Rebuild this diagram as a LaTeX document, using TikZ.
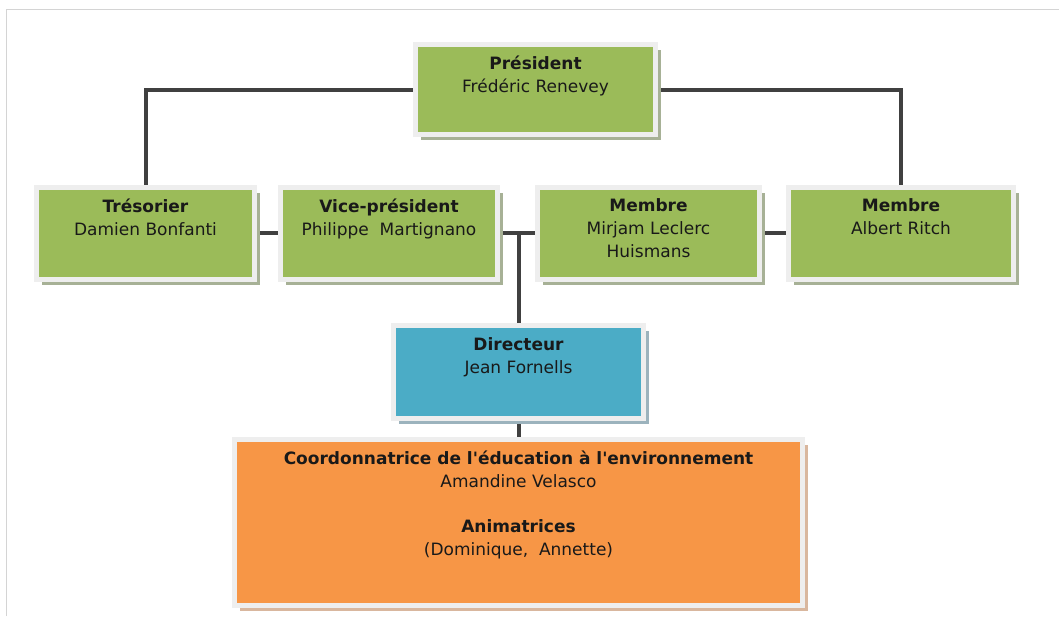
\documentclass[tikz,border=0pt]{standalone}
\usepackage{fontspec}
\setmainfont{DejaVu Sans}
\usetikzlibrary{shadows,backgrounds}
\definecolor{boxgreen}{HTML}{9BBB59}
\definecolor{boxblue}{HTML}{4BACC6}
\definecolor{boxorange}{HTML}{F79646}
\definecolor{greenshadow}{HTML}{A7B196}
\definecolor{blueshadow}{HTML}{9CB3BD}
\definecolor{orangeshadow}{HTML}{D9B79E}
\definecolor{framegray}{HTML}{EEEEEE}
\definecolor{linegray}{HTML}{404040}
\definecolor{pagegray}{HTML}{D4D4D4}

\begin{document}
\begin{tikzpicture}[x=1pt,y=-1pt,
  orgbox/.style={draw=framegray,line width=5pt,inner sep=0pt},
  greenbox/.style={orgbox,fill=boxgreen,minimum height=92pt,
    drop shadow={shadow xshift=5.5pt,shadow yshift=-5.5pt,fill=greenshadow,opacity=1}},
  bluebox/.style={orgbox,fill=boxblue,
    drop shadow={shadow xshift=5.5pt,shadow yshift=-5.5pt,fill=blueshadow,opacity=1}},
  orangebox/.style={orgbox,fill=boxorange,
    drop shadow={shadow xshift=5.5pt,shadow yshift=-5.5pt,fill=orangeshadow,opacity=1}},
  boxtext/.style={anchor=north,align=center,inner sep=0pt,text=black!90,font=\fontsize{17}{23}\selectfont},
  link/.style={draw=linegray,line width=4pt}]
\useasboundingbox (0,0) rectangle (1059,616);
\draw[pagegray,line width=0.8pt] (6,616) -- (6,9) -- (1059,9);

\node[greenbox,minimum width=240pt,minimum height=90pt] (pres) at (535.5,89.5) {};
\node[greenbox,minimum width=218pt] (tres) at (145.5,233) {};
\node[greenbox,minimum width=217pt] (vp) at (389,233) {};
\node[greenbox,minimum width=222pt] (mem1) at (648.5,233) {};
\node[greenbox,minimum width=225pt] (mem2) at (901,233) {};
\node[bluebox,minimum width=250pt,minimum height=93pt] (dir) at (518.5,372) {};
\node[orangebox,minimum width=568pt,minimum height=166pt] (coord) at (518.5,522.5) {};

\node[boxtext] (pres-txt) at ([yshift=-14pt]pres.north) {\textbf{Président}\\Frédéric Renevey};
\node[boxtext] (tres-txt) at ([yshift=-14pt]tres.north) {\textbf{Trésorier}\\Damien Bonfanti};
\node[boxtext] (vp-txt) at ([yshift=-14pt]vp.north) {\textbf{Vice-président}\\Philippe\ \ Martignano};
\node[boxtext] (mem1-txt) at ([yshift=-14pt]mem1.north) {\textbf{Membre}\\Mirjam Leclerc\\Huismans};
\node[boxtext] (mem2-txt) at ([yshift=-14pt]mem2.north) {\textbf{Membre}\\Albert Ritch};
\node[boxtext] (dir-txt) at ([yshift=-14pt]dir.north) {\textbf{Directeur}\\Jean Fornells};
\node[boxtext] (coord-txt) at ([yshift=-14pt]coord.north)
  {\textbf{Coordonnatrice de l\textquotesingle éducation à l\textquotesingle environnement}\\Amandine Velasco\\[22pt]
   \textbf{Animatrices}\\(Dominique,\ \ Annette)};

\begin{pgfonlayer}{background}
\draw[link] (pres.west) -| (tres.north);
\draw[link] (pres.east) -| (mem2.north);
\draw[link] (tres) -- (vp);
\draw[link] (vp) -- (mem1);
\draw[link] (mem1) -- (mem2);
\draw[link] (dir) -- (dir |- vp.east);
\draw[link] (dir) -- (coord);
\end{pgfonlayer}
\end{tikzpicture}
\end{document}
